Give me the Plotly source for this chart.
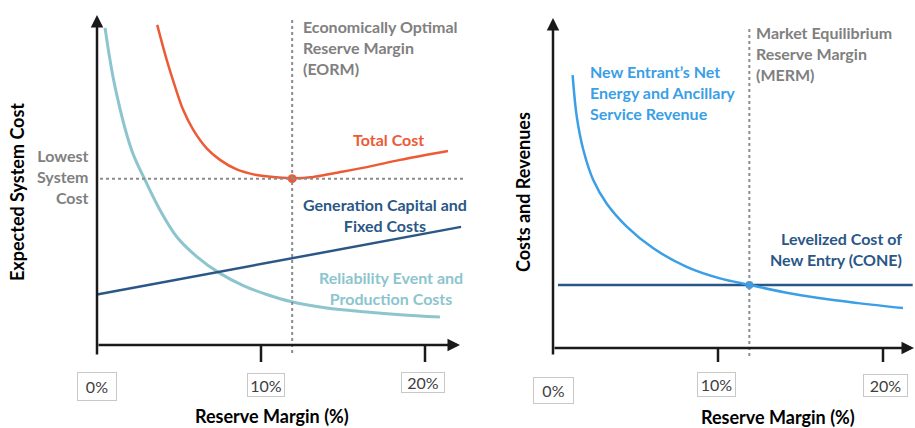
import plotly.graph_objects as go

# ---- data ----
tick_pos = [0, 10, 20]
tick_labels = ['0%', '10%', '20%']

# left panel: expected system cost
reliability_x = [0.49, 1.10, 2.11, 2.93, 3.84, 4.86, 6.08, 7.50, 8.92, 10.35, 11.87, 14.0, 16.46, 18.5, 20.91]
reliability_y = [96.1, 78.2, 59.1, 50.0, 40.9, 32.8, 26.8, 21.7, 18.0, 15.3, 13.1, 11.2, 10.0, 9.2, 8.5]

total_x = [3.67, 4.25, 4.76, 5.26, 5.87, 6.69, 7.50, 8.52, 9.74, 10.96, 11.93, 13.2, 14.39, 16.46, 18.48, 21.40]
total_y = [97.0, 86.4, 78.3, 71.2, 65.2, 59.6, 56.1, 53.2, 51.5, 50.8, 50.5, 50.9, 52.0, 53.9, 56.1, 58.8]

capital_x = [0.0, 22.2]
capital_y = [15.3, 35.8]

eorm = 11.9
lowest_cost = 50.4

# right panel: costs and revenues
revenue_x = [1.19, 1.44, 1.84, 2.44, 3.25, 4.47, 6.08, 8.10, 10.12, 11.94, 14.0, 16.0, 18.5, 21.21]
revenue_y = [82.7, 70.1, 60.0, 50.9, 43.8, 36.8, 30.2, 24.6, 21.1, 19.1, 16.9, 15.2, 13.6, 12.1]

cone_x = [0.3, 21.8]
cone_y = [19.1, 19.1]

merm = 11.9

# ---- styling ----
W, H = 915, 428
FONT = 'Lato'
RED = '#ED5A35'
TEAL = '#8CC5CE'
NAVY = '#2A5786'
BLUE = '#3A9FE6'
GREY = '#808080'
DOT = '#8C8C8C'
AXIS = '#1A1A1A'

# pixel mapping of each panel (origin px, px per %, px per unit)
L = dict(x0=97, y0=345, sx=16.4, sy=3.3)
R = dict(x0=553, y0=348, sx=16.5, sy=3.3)
split = 0.52


def xr(p, lo, hi):
    return [(lo - p['x0']) / p['sx'], (hi - p['x0']) / p['sx']]


def yr(p):
    return [(p['y0'] - H) / p['sy'], p['y0'] / p['sy']]


def dy(p, py):
    return (p['y0'] - py) / p['sy']


def dx(p, px):
    return (px - p['x0']) / p['sx']


fig = go.Figure()

fig.add_trace(go.Scatter(x=reliability_x, y=reliability_y, mode='lines', line_shape='spline',
                         line=dict(color=TEAL, width=3), xaxis='x', yaxis='y'))
fig.add_trace(go.Scatter(x=capital_x, y=capital_y, mode='lines',
                         line=dict(color=NAVY, width=2.5), xaxis='x', yaxis='y'))
fig.add_trace(go.Scatter(x=total_x, y=total_y, mode='lines', line_shape='spline',
                         line=dict(color=RED, width=2.5), xaxis='x', yaxis='y'))
fig.add_trace(go.Scatter(x=[eorm], y=[lowest_cost], mode='markers',
                         marker=dict(color=RED, size=9), xaxis='x', yaxis='y'))

fig.add_trace(go.Scatter(x=cone_x, y=cone_y, mode='lines',
                         line=dict(color=NAVY, width=2.5), xaxis='x2', yaxis='y2'))
fig.add_trace(go.Scatter(x=revenue_x, y=revenue_y, mode='lines', line_shape='spline',
                         line=dict(color=BLUE, width=2.5), xaxis='x2', yaxis='y2'))
fig.add_trace(go.Scatter(x=[merm], y=[cone_y[0]], mode='markers',
                         marker=dict(color=BLUE, size=8), xaxis='x2', yaxis='y2'))

shapes = []
annotations = []

# dotted guide lines
shapes.append(dict(type='line', xref='x', yref='y', x0=eorm, x1=eorm,
                   y0=dy(L, 353), y1=dy(L, 18), line=dict(color=DOT, width=2, dash='dot')))
shapes.append(dict(type='line', xref='x', yref='y', x0=dx(L, 100), x1=dx(L, 463),
                   y0=lowest_cost, y1=lowest_cost, line=dict(color=DOT, width=2, dash='dot')))
shapes.append(dict(type='line', xref='x2', yref='y2', x0=merm, x1=merm,
                   y0=dy(R, 356), y1=dy(R, 29), line=dict(color=DOT, width=2, dash='dot')))

# axes with arrows
for xa, ya, p, xend in [('x', 'y', L, 460), ('x2', 'y2', R, 914)]:
    annotations.append(dict(xref=xa, yref=ya, axref=xa, ayref=ya, text='',
                            x=dx(p, xend), y=0, ax=0, ay=0, showarrow=True,
                            arrowhead=2, arrowsize=1, arrowwidth=2.5, arrowcolor=AXIS))
    annotations.append(dict(xref=xa, yref=ya, axref=xa, ayref=ya, text='',
                            x=0, y=dy(p, 15 if p is L else 18), ax=0, ay=dy(p, 356),
                            showarrow=True, arrowhead=2, arrowsize=1, arrowwidth=2.5,
                            arrowcolor=AXIS))
    for t in tick_pos[1:]:
        shapes.append(dict(type='line', xref=xa, yref=ya, x0=t, x1=t, y0=0,
                           y1=dy(p, 362), line=dict(color=AXIS, width=2.5)))


def px_ann(text, x, y, color, size=16, align='left', xanchor='left', bold=True, **kw):
    if bold:
        text = '<b>' + text.replace('<br>', '</b><br><b>') + '</b>'
    d = dict(text=text, xref='paper', yref='paper', x=x / W, y=1 - y / H,
             xanchor=xanchor, yanchor='middle', align=align, showarrow=False,
             font=dict(family=FONT, size=size, color=color))
    d.update(kw)
    annotations.append(d)


# tick label boxes
boxes = [
    (L, [(97, 386, 40, 29), (266, 385, 38, 24), (423, 382, 44, 21)]),
    (R, [(553, 390, 41, 27), (716, 384, 39, 25), (885, 385, 45, 23)]),
]
for p, lst in boxes:
    for lab, (bx, by, bw, bh) in zip(tick_labels, lst):
        px_ann(lab, bx, by, '#404040', size=16, xanchor='center', align='center', bold=False,
               width=bw - 2, height=bh - 2, bordercolor='#C8C8C8', borderwidth=1, borderpad=0,
               bgcolor='white')

# text labels
px_ann('Economically Optimal<br>Reserve Margin<br>(EORM)', 301, 47.5, GREY)
px_ann('Total Cost', 388, 139, RED, xanchor='center', align='center')
px_ann('Lowest<br>System<br>Cost', 91, 177, GREY, xanchor='right', align='right')
px_ann('Generation Capital and<br>Fixed Costs', 385, 215, NAVY, xanchor='center', align='center')
px_ann('Reliability Event and<br>Production Costs', 391, 288, TEAL, xanchor='center', align='center')
px_ann('Market Equilibrium<br>Reserve Margin<br>(MERM)', 754, 53.5, GREY)
px_ann('New Entrant’s Net<br>Energy and Ancillary<br>Service Revenue', 588, 92.5, BLUE)
px_ann('Levelized Cost of<br>New Entry (CONE)', 904, 248.5, NAVY, xanchor='right', align='right')

# axis titles
px_ann('Expected System Cost', 17, 192, 'black', size=18, xanchor='center', textangle=-90)
px_ann('Costs and Revenues', 523, 192, 'black', size=18, xanchor='center', textangle=-90)
px_ann('Reserve Margin (%)', 272, 416, 'black', size=18, xanchor='center')
px_ann('Reserve Margin (%)', 778, 417, 'black', size=18, xanchor='center')

hidden = dict(visible=False, showgrid=False, zeroline=False, fixedrange=True)
fig.update_layout(
    width=W, height=H,
    margin=dict(l=0, r=0, t=0, b=0),
    paper_bgcolor='white', plot_bgcolor='white',
    showlegend=False,
    hovermode=False,
    xaxis=dict(domain=[0, split], range=xr(L, 0, split * W), **hidden),
    yaxis=dict(domain=[0, 1], range=yr(L), **hidden),
    xaxis2=dict(domain=[split, 1], range=xr(R, split * W, W), anchor='y2', **hidden),
    yaxis2=dict(domain=[0, 1], range=yr(R), anchor='x2', **hidden),
    shapes=shapes,
    annotations=annotations,
)

# the page has a default 8px body margin; drop it so the figure sits at the window's corner
fig.write_html('out.html', config={'displayModeBar': False},
               post_script="document.body.style.margin='0';")
